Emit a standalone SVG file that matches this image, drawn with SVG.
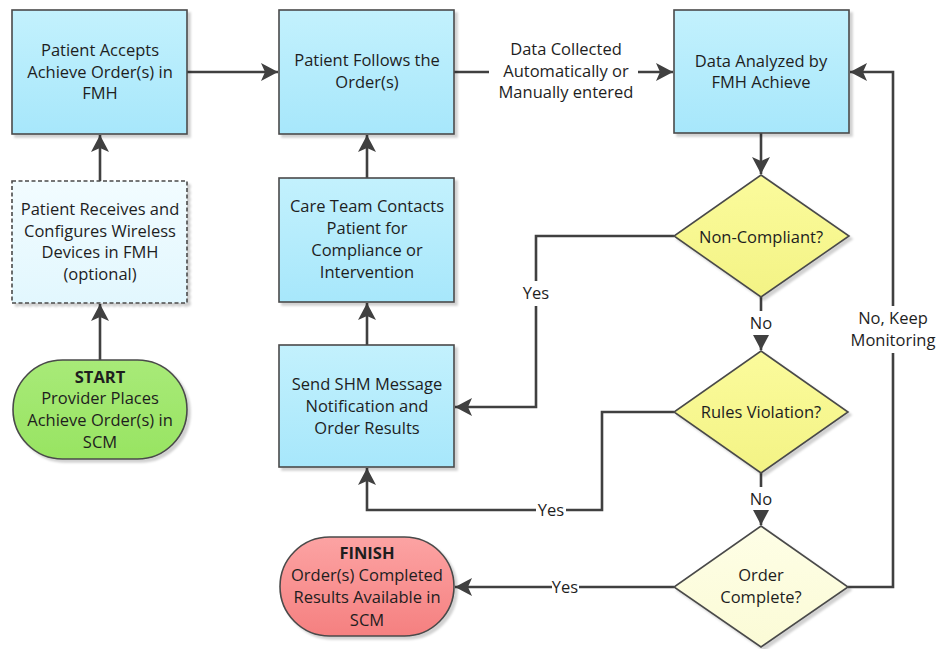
<svg xmlns="http://www.w3.org/2000/svg" width="940" height="649" viewBox="0 0 940 649">
<defs>
<linearGradient id="gBlue" x1="0" y1="0" x2="0" y2="1"><stop offset="0" stop-color="#c3f1fd"/><stop offset="1" stop-color="#a7e7fb"/></linearGradient>
<linearGradient id="gPale" x1="0" y1="0" x2="0" y2="1"><stop offset="0" stop-color="#f2fcff"/><stop offset="1" stop-color="#e2f7fe"/></linearGradient>
<linearGradient id="gGreen" x1="0" y1="0" x2="0" y2="1"><stop offset="0" stop-color="#a8ea78"/><stop offset="1" stop-color="#98e462"/></linearGradient>
<linearGradient id="gRed" x1="0" y1="0" x2="0" y2="1"><stop offset="0" stop-color="#fca3a3"/><stop offset="1" stop-color="#f58080"/></linearGradient>
<linearGradient id="gYellow" x1="0" y1="0" x2="0" y2="1"><stop offset="0" stop-color="#fbfb9c"/><stop offset="1" stop-color="#f3f385"/></linearGradient>
<linearGradient id="gCream" x1="0" y1="0" x2="0" y2="1"><stop offset="0" stop-color="#fefee6"/><stop offset="1" stop-color="#fbfbd6"/></linearGradient>
<filter id="sh" x="-10%" y="-10%" width="130%" height="130%"><feDropShadow dx="3" dy="3" stdDeviation="1.2" flood-color="#000" flood-opacity="0.18"/></filter>
<marker id="arr" markerUnits="userSpaceOnUse" markerWidth="18" markerHeight="18" viewBox="0 0 18 18" refX="17" refY="9" orient="auto"><path d="M0,0 L17,9 L0,18 L4,9 z" fill="#404040"/></marker>
<marker id="arrS" markerUnits="userSpaceOnUse" markerWidth="16" markerHeight="16" viewBox="0 0 16 16" refX="15" refY="8" orient="auto"><path d="M0,0 L15,8 L0,16 z" fill="#404040"/></marker>
<style>
.box{stroke:#4a4a4a;stroke-width:1.6;filter:url(#sh)}
.t{font-family:"Open Sans","Liberation Sans",sans-serif;font-size:16.5px;fill:#1e1e1e;text-anchor:middle}
.b{font-weight:bold}
.c{fill:none;stroke:#404040;stroke-width:2.6}
</style>
</defs>

<g id="connectors">
<path class="c" d="M187,72 H278" marker-end="url(#arr)"/>
<path class="c" d="M454,72 H489"/>
<path class="c" d="M638,72 H673" marker-end="url(#arr)"/>
<path class="c" d="M100,181 V135" marker-end="url(#arr)"/>
<path class="c" d="M100,360 V304" marker-end="url(#arr)"/>
<path class="c" d="M367,178 V135" marker-end="url(#arr)"/>
<path class="c" d="M367,345 V303" marker-end="url(#arr)"/>
<path class="c" d="M761,133 V174" marker-end="url(#arr)"/>
<path class="c" d="M674,236 H536 V281"/>
<path class="c" d="M536,306 V407 H455" marker-end="url(#arr)"/>
<path class="c" d="M761,297 V311"/>
<path class="c" d="M761,336 V350" marker-end="url(#arrS)"/>
<path class="c" d="M674,412 H602 V510 H566"/>
<path class="c" d="M536,510 H367 V468" marker-end="url(#arr)"/>
<path class="c" d="M761,473 V487"/>
<path class="c" d="M761,512 V525" marker-end="url(#arrS)"/>
<path class="c" d="M674,587 H579"/>
<path class="c" d="M552,587 H455" marker-end="url(#arr)"/>
<path class="c" d="M848,587 H893 V353"/>
<path class="c" d="M893,306 V72 H850" marker-end="url(#arr)"/>
<text class="t" x="566" y="55">Data Collected</text>
<text class="t" x="566" y="77">Automatically or</text>
<text class="t" x="566" y="98">Manually entered</text>
<text class="t" x="536" y="299">Yes</text>
<text class="t" x="761" y="329">No</text>
<text class="t" x="551" y="516">Yes</text>
<text class="t" x="761" y="505">No</text>
<text class="t" x="565" y="593">Yes</text>
<text class="t" x="893" y="324">No, Keep</text>
<text class="t" x="893" y="346">Monitoring</text>
</g>

<g id="accepts">
<rect class="box" x="12" y="10" width="175" height="124" fill="url(#gBlue)"/>
<text class="t" x="100" y="56">Patient Accepts</text>
<text class="t" x="100" y="78">Achieve Order(s) in</text>
<text class="t" x="100" y="99">FMH</text>
</g>

<g id="follows">
<rect class="box" x="279" y="10" width="175" height="124" fill="url(#gBlue)"/>
<text class="t" x="367" y="66">Patient Follows the</text>
<text class="t" x="367" y="88">Order(s)</text>
</g>

<g id="analyzed">
<rect class="box" x="674" y="10" width="175" height="123" fill="url(#gBlue)"/>
<text class="t" x="761" y="67">Data Analyzed by</text>
<text class="t" x="761" y="88">FMH Achieve</text>
</g>

<g id="receives">
<rect class="box" x="12" y="181" width="175" height="122" fill="url(#gPale)" stroke-dasharray="4,2.5"/>
<text class="t" x="100" y="215">Patient Receives and</text>
<text class="t" x="100" y="237">Configures Wireless</text>
<text class="t" x="100" y="258">Devices in FMH</text>
<text class="t" x="100" y="280">(optional)</text>
</g>

<g id="careteam">
<rect class="box" x="279" y="178" width="175" height="124" fill="url(#gBlue)"/>
<text class="t" x="367" y="212">Care Team Contacts</text>
<text class="t" x="367" y="234">Patient for</text>
<text class="t" x="367" y="256">Compliance or</text>
<text class="t" x="367" y="278">Intervention</text>
</g>

<g id="sendshm">
<rect class="box" x="279" y="345" width="175" height="122" fill="url(#gBlue)"/>
<text class="t" x="367" y="390">Send SHM Message</text>
<text class="t" x="367" y="412">Notification and</text>
<text class="t" x="367" y="434">Order Results</text>
</g>

<g id="start">
<rect class="box" x="13" y="360" width="174" height="99" rx="49.5" ry="49.5" fill="url(#gGreen)"/>
<text class="t b" x="100" y="383">START</text>
<text class="t" x="100" y="404">Provider Places</text>
<text class="t" x="100" y="426">Achieve Order(s) in</text>
<text class="t" x="100" y="448">SCM</text>
</g>

<g id="finish">
<rect class="box" x="280" y="537" width="174" height="99" rx="49.5" ry="49.5" fill="url(#gRed)"/>
<text class="t b" x="367" y="559">FINISH</text>
<text class="t" x="367" y="581">Order(s) Completed</text>
<text class="t" x="367" y="603">Results Available in</text>
<text class="t" x="367" y="626">SCM</text>
</g>

<g id="noncompliant">
<polygon class="box" points="761,175 849,236 761,297 674,236" fill="url(#gYellow)"/>
<text class="t" x="761" y="243">Non-Compliant?</text>
</g>

<g id="rules">
<polygon class="box" points="761,351 848,412 761,473 674,412" fill="url(#gYellow)"/>
<text class="t" x="761" y="418">Rules Violation?</text>
</g>

<g id="complete">
<polygon class="box" points="761,526 848,587 761,647 674,587" fill="url(#gCream)"/>
<text class="t" x="761" y="581">Order</text>
<text class="t" x="761" y="603">Complete?</text>
</g>
</svg>
